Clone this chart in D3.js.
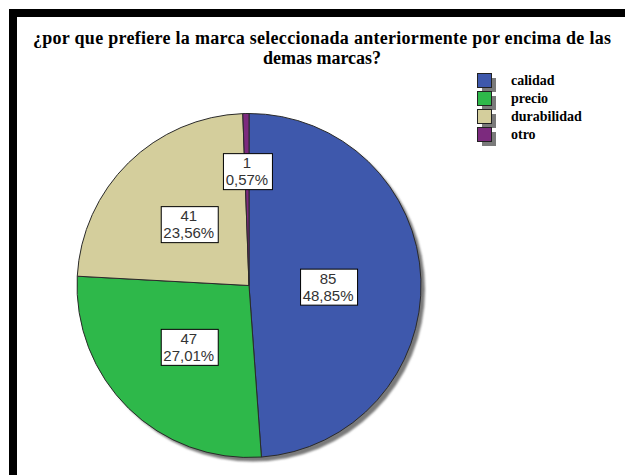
<!DOCTYPE html>
<html>
<head>
<meta charset="utf-8">
<script src="https://cdn.jsdelivr.net/npm/d3@7"></script>
<style>
  html, body { margin: 0; padding: 0; background: #fff; }
  svg { display: block; }
</style>
</head>
<body>
<svg id="chart" width="625" height="475"></svg>
<script>
// Survey answers: reason for preferring the selected brand
const categories = ["calidad", "precio", "durabilidad", "otro"];
const counts = [85, 47, 41, 1];
const percentLabels = ["48,85%", "27,01%", "23,56%", "0,57%"];
const colors = ["#3e58ac", "#2eb84a", "#d4ce9c", "#7c2a7e"];
const titleLines = [
  "¿por que prefiere la marca seleccionada anteriormente por encima de las",
  "demas marcas?"
];

const W = 625, H = 475;
const svg = d3.select("#chart");

// frame: thick black bars on the top and left edges
svg.append("rect").attr("x", 9).attr("y", 9).attr("width", W - 9).attr("height", 8).attr("fill", "#000");
svg.append("rect").attr("x", 9).attr("y", 9).attr("width", 8).attr("height", H - 9).attr("fill", "#000");

// title
const title = svg.append("g").attr("font-family", "'Liberation Serif', 'Times New Roman', serif")
  .attr("font-weight", "bold").attr("font-size", 18).attr("fill", "#000").attr("text-anchor", "middle");
title.append("text").attr("x", 322).attr("y", 44).attr("textLength", 578).attr("lengthAdjust", "spacing").text(titleLines[0]);
title.append("text").attr("x", 322).attr("y", 64).text(titleLines[1]);

// pie
const cx = 249, cy = 285.5, R = 172;
const defs = svg.append("defs");
defs.append("filter").attr("id", "soft").attr("x", "-10%").attr("y", "-10%").attr("width", "120%").attr("height", "120%")
  .append("feGaussianBlur").attr("stdDeviation", 1.2);

const pie = d3.pie().sort(null).value(d => d)(counts);
const arc = d3.arc().innerRadius(0).outerRadius(R);

const g = svg.append("g").attr("transform", `translate(${cx},${cy})`);
// drop shadow behind the pie
g.append("circle").attr("cx", 4).attr("cy", 4).attr("r", R).attr("fill", "#7a7a7a").attr("filter", "url(#soft)");

g.selectAll("path.slice").data(pie).join("path")
  .attr("class", "slice")
  .attr("d", arc)
  .attr("fill", (d, i) => colors[i])
  .attr("stroke", "#2a2a2a")
  .attr("stroke-width", 1)
  .attr("stroke-linejoin", "round");

// value labels in white boxes; tiny slices get their label pushed outward
const total = d3.sum(counts);
const labels = g.selectAll("g.lab").data(pie).join("g").attr("class", "lab")
  .attr("transform", d => {
    const frac = d.value / total;
    const rr = frac < 0.05 ? R * 0.665 : (frac > 0.4 ? R * 0.46 : R * 0.5);
    const a = (d.startAngle + d.endAngle) / 2;
    return `translate(${rr * Math.sin(a)},${-rr * Math.cos(a) + (frac > 0.4 ? 4 : 0)})`;
  });

labels.each(function (d, i) {
  const sel = d3.select(this);
  const box = sel.append("rect").attr("fill", "#fff").attr("stroke", "#000").attr("stroke-width", 1);
  const t = sel.append("text").attr("font-family", "'Liberation Sans', Arial, sans-serif")
    .attr("font-size", 15).attr("fill", "#333").attr("text-anchor", "middle");
  t.append("tspan").attr("x", 0).attr("y", -3).text(counts[i]);
  t.append("tspan").attr("x", 0).attr("y", 14).text(percentLabels[i]);
  const bb = t.node().getBBox();
  box.attr("x", Math.round(bb.x - 3) + 0.5).attr("y", Math.round(bb.y - 1) + 0.5)
    .attr("width", Math.round(bb.width + 6)).attr("height", Math.round(bb.height + 2));
});

// legend
const leg = svg.append("g").attr("transform", "translate(477,73)");
const rows = leg.selectAll("g").data(categories).join("g")
  .attr("transform", (d, i) => `translate(0,${i * 18})`);
rows.append("rect").attr("x", 5).attr("y", 5).attr("width", 14).attr("height", 14).attr("fill", "#7a7a7a");
rows.append("rect").attr("x", 0.5).attr("y", 0.5).attr("width", 14).attr("height", 14)
  .attr("fill", (d, i) => colors[i]).attr("stroke", "#222").attr("stroke-width", 1);
rows.append("text").attr("x", 34).attr("y", 12)
  .attr("font-family", "'Liberation Serif', 'Times New Roman', serif")
  .attr("font-weight", "bold").attr("font-size", 14).attr("fill", "#000")
  .text(d => d);
</script>
</body>
</html>
